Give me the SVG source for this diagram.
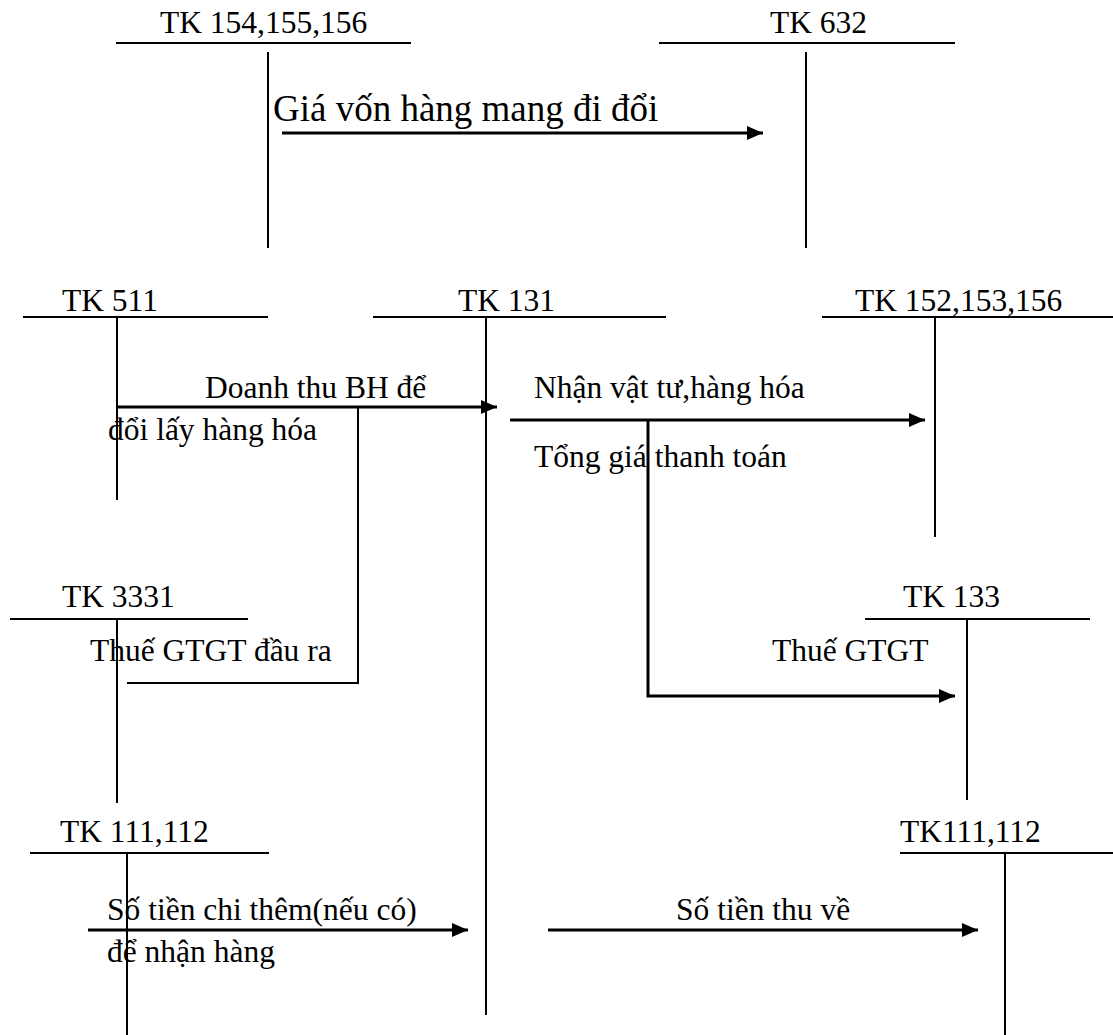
<svg xmlns="http://www.w3.org/2000/svg" width="1113" height="1035" viewBox="0 0 1113 1035">
<style>
  text { font-family: "Liberation Serif", "Times New Roman", serif; font-size: 31.5px; fill: #000; }
  .big { font-size: 37px; }
  .ln { stroke: #000; stroke-width: 2; fill: none; }
  .ar { stroke: #000; stroke-width: 3; fill: none; marker-end: url(#ah); }
</style>
<defs>
  <marker id="ah" viewBox="0 0 16 14" refX="16" refY="7" markerWidth="16" markerHeight="14" markerUnits="userSpaceOnUse" orient="auto">
    <path d="M0,0 L16,7 L0,14 z" fill="#000"/>
  </marker>
</defs>
<rect width="1113" height="1035" fill="#fff"/>

<g id="tk154">
  <text x="160" y="33">TK 154,155,156</text>
  <line class="ln" x1="116" y1="43" x2="411" y2="43"/>
  <line class="ln" x1="268" y1="52" x2="268" y2="248"/>
</g>
<g id="tk632">
  <text x="770" y="33">TK 632</text>
  <line class="ln" x1="659" y1="43" x2="955" y2="43"/>
  <line class="ln" x1="806" y1="52" x2="806" y2="248"/>
</g>
<g id="tk511">
  <text x="62" y="311">TK 511</text>
  <line class="ln" x1="23" y1="317" x2="268" y2="317"/>
  <line class="ln" x1="117" y1="317" x2="117" y2="500"/>
</g>
<g id="tk131">
  <text x="458" y="311">TK 131</text>
  <line class="ln" x1="373" y1="317" x2="666" y2="317"/>
  <line class="ln" x1="486" y1="317" x2="486" y2="1015"/>
</g>
<g id="tk152">
  <text x="855" y="311">TK 152,153,156</text>
  <line class="ln" x1="822" y1="317" x2="1113" y2="317"/>
  <line class="ln" x1="935" y1="317" x2="935" y2="537"/>
</g>
<g id="tk3331">
  <text x="62" y="607">TK 3331</text>
  <line class="ln" x1="10" y1="619" x2="248" y2="619"/>
  <line class="ln" x1="117" y1="619" x2="117" y2="803"/>
</g>
<g id="tk133">
  <text x="903" y="607">TK 133</text>
  <line class="ln" x1="865" y1="619" x2="1090" y2="619"/>
  <line class="ln" x1="967" y1="619" x2="967" y2="800"/>
</g>
<g id="tk111a">
  <text x="60" y="842">TK 111,112</text>
  <line class="ln" x1="30" y1="853" x2="269" y2="853"/>
  <line class="ln" x1="127" y1="853" x2="127" y2="1035"/>
</g>
<g id="tk111b">
  <text x="900" y="842">TK111,112</text>
  <line class="ln" x1="900" y1="853" x2="1113" y2="853"/>
  <line class="ln" x1="1005" y1="853" x2="1005" y2="1035"/>
</g>

<g id="connectors">
  <line class="ar" x1="282" y1="133" x2="763" y2="133"/>
  <line class="ar" x1="117" y1="407" x2="497" y2="407"/>
  <polyline class="ln" points="127,683 358,683 358,407"/>
  <line class="ar" x1="510" y1="420" x2="925" y2="420"/>
  <polyline class="ar" points="648,420 648,696 955,696"/>
  <line class="ar" x1="88" y1="930" x2="468" y2="930"/>
  <line class="ar" x1="548" y1="930" x2="978" y2="930"/>
</g>

<g id="labels">
  <text class="big" x="273" y="121">Giá vốn hàng mang đi đổi</text>
  <text x="205" y="398">Doanh thu BH để</text>
  <text x="108" y="440">đổi lấy hàng hóa</text>
  <text x="534" y="398">Nhận vật tư,hàng hóa</text>
  <text x="534" y="467">Tổng giá thanh toán</text>
  <text x="90" y="661">Thuế GTGT đầu ra</text>
  <text x="772" y="661">Thuế GTGT</text>
  <text x="107" y="920">Số tiền chi thêm(nếu có)</text>
  <text x="107" y="962">để nhận hàng</text>
  <text x="676" y="920">Số tiền thu về</text>
</g>
</svg>
